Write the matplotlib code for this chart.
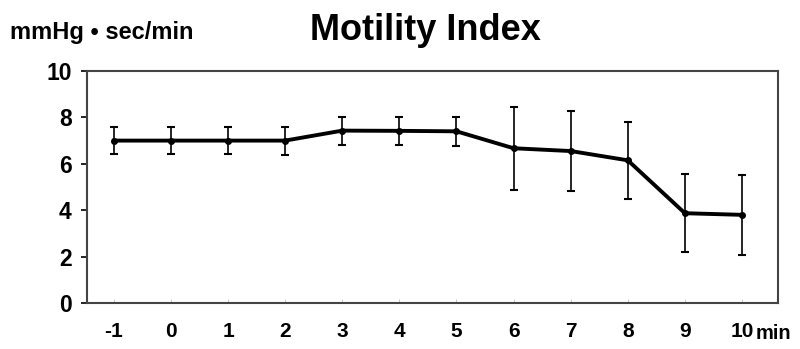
import matplotlib
matplotlib.use("Agg")
import matplotlib.pyplot as plt

minutes = [-1, 0, 1, 2, 3, 4, 5, 6, 7, 8, 9, 10]
motility = [7.0, 7.0, 7.0, 7.0, 7.43, 7.42, 7.4, 6.67, 6.55, 6.15, 3.87, 3.8]
err = [0.58, 0.58, 0.58, 0.6, 0.6, 0.6, 0.62, 1.78, 1.72, 1.65, 1.68, 1.72]
yticks = [0, 2, 4, 6, 8, 10]

plt.rcParams['font.family'] = ['Liberation Sans', 'DejaVu Sans']
fig = plt.figure(figsize=(8.0, 3.49), dpi=100)
ax = fig.add_axes([87/800, 1 - 303/349, (778-87)/800, (303-71)/349])

ax.errorbar(minutes, motility, yerr=err, color='black', lw=2.8, marker='o', ms=4,
            ecolor='black', elinewidth=1.2, capsize=3, capthick=1.5)
ax.set_xlim(-1.47, 10.63)
ax.set_ylim(0, 10)
ax.set_yticks(yticks)
ax.set_xticks(minutes)
ax.set_xticklabels([str(m) for m in minutes], fontsize=15, fontweight='bold')
ax.set_yticklabels([str(y) for y in yticks], fontsize=16.5, fontweight='bold')
ax.tick_params(axis='y', direction='out', length=4, width=1.2, pad=7)
ax.tick_params(axis='x', direction='in', length=3, width=0.6, color='#bbbbbb', pad=14)
for s in ax.spines.values():
    s.set_color('#444444')
    s.set_linewidth(1.5)

fig.text(425/800, 1 - 30/349, 'Motility Index', ha='center', va='center', fontsize=26, fontweight='bold')
fig.text(10/800, 1 - 33/349, 'mmHg \u2022 sec/min', ha='left', va='center', fontsize=17, fontweight='bold')
fig.text(756/800, 1 - 339/349, 'min', ha='left', va='baseline', fontsize=14.5, fontweight='bold')

fig.savefig('out.png', dpi=100)
